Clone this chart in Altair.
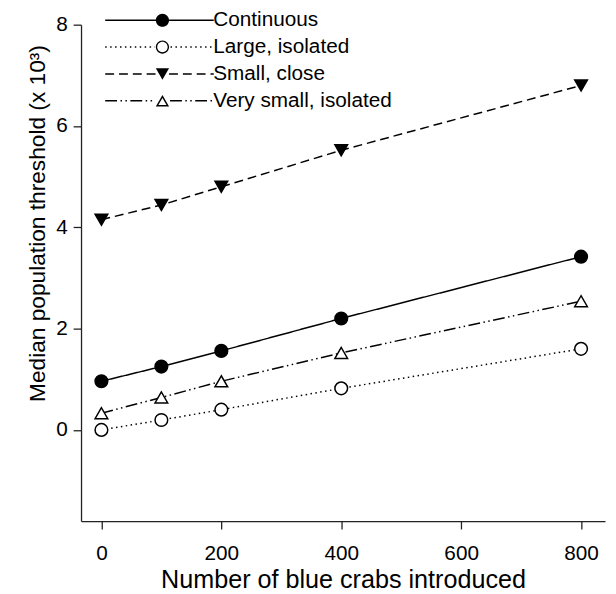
import math
import altair as alt
import pandas as pd

# ---- data ----
series = ["Continuous", "Large, isolated", "Small, close", "Very small, isolated"]
crabs = [0, 100, 200, 400, 800]
continuous = [0.96, 1.25, 1.56, 2.20, 3.42]
large_isolated = [0.00, 0.195, 0.40, 0.82, 1.60]
small_close = [4.15, 4.44, 4.80, 5.52, 6.80]
very_small_isolated = [0.33, 0.64, 0.96, 1.52, 2.54]

x_ticks = [0, 200, 400, 600, 800]
y_ticks = [0, 2, 4, 6, 8]

values = [continuous, large_isolated, small_close, very_small_isolated]
rows = []
for name, vals in zip(series, values):
    for x, y in zip(crabs, vals):
        rows.append({"crabs": x, "threshold": y, "series": name, "legend": name})
df = pd.DataFrame(rows)

# ---- styles ----
dash_patterns = [[1, 0], [1.5, 3.5], [9, 5], [12, 3.5, 1.5, 3.5, 1.5, 3.5]]
shapes = ["circle", "circle", "triangle-down", "triangle-up"]
fills = ["black", "white", "black", "white"]
FONT = "Liberation Sans"


# legend glyphs (line + marker) as custom symbol paths, in pixel units (size 4)
def dashes(x0, x1, pattern, t=1.5):
    out = []
    x, i, on = x0, 0, True
    while x < x1 - 0.01:
        L = pattern[i % len(pattern)]
        if on:
            a, b = x, min(x + L, x1)
            out.append(f"M{a:.2f},{-t/2:.2f}H{b:.2f}V{t/2:.2f}H{a:.2f}Z")
        x += L
        i += 1
        on = not on
    return "".join(out)


def circle(r, cw=True):
    s = 1 if cw else 0
    return f"M{r},0A{r},{r} 0 1,{s} {-r},0A{r},{r} 0 1,{s} {r},0Z"


def tri(pts):
    return "M" + "L".join(f"{x:.2f},{y:.2f}" for x, y in pts) + "Z"


L0, R0, R = -58, 52, 6.7
H = math.sqrt(3) / 2 * R
glyphs = []
glyphs.append(dashes(L0, -R, [200, 0]) + dashes(R, R0, [200, 0]) + circle(R))
glyphs.append(dashes(L0, -R - 1, [1.5, 3.5]) + dashes(R + 1.5, R0, [1.5, 3.5])
              + circle(R) + circle(R - 1.4, cw=False))
glyphs.append(dashes(L0, -R, [9, 5]) + dashes(R, R0, [9, 5])
              + tri([(0, H), (-R, -H), (R, -H)]))
outer = [(0, -H), (-R, H), (R, H)]
cy = H / 3
k = 0.62
inner = [(x * k, cy + (y - cy) * k) for x, y in outer][::-1]
glyphs.append(dashes(L0, -R - 1, [12, 3.5, 1.5, 3.5, 1.5, 3.5])
              + dashes(R + 1, R0, [12, 3.5, 1.5, 3.5, 1.5, 3.5])
              + tri(outer) + tri(inner))

xscale = alt.Scale(domain=[-34, 840], nice=False, zero=False)
yscale = alt.Scale(domain=[-1.8, 8], nice=False, zero=False)

xenc = alt.X("crabs:Q", scale=xscale, axis=alt.Axis(
    values=x_ticks, title="Number of blue crabs introduced",
    titleY=67, titleBaseline="alphabetic", titleFontSize=25.5))
yenc = alt.Y("threshold:Q", scale=yscale, axis=alt.Axis(
    values=y_ticks, title="Median population threshold (x 10\u00b3)",
    titleX=-37, titleY=201, titleBaseline="alphabetic", titleAngle=270,
    titleFontSize=23))

base = alt.Chart(df)

lines = base.mark_line(color="black", strokeWidth=1.5).encode(
    x=xenc, y=yenc,
    strokeDash=alt.StrokeDash("series:N", scale=alt.Scale(domain=series, range=dash_patterns), legend=None),
    detail="series:N",
)

points = base.mark_point(size=165, strokeWidth=1.5, opacity=1).encode(
    x=xenc, y=yenc,
    shape=alt.Shape("series:N", scale=alt.Scale(domain=series, range=shapes), legend=None),
    fill=alt.Fill("series:N", scale=alt.Scale(domain=series, range=fills), legend=None),
    stroke=alt.value("black"),
)

legend_layer = base.mark_point(filled=True, size=4).encode(
    x=xenc, y=yenc,
    shape=alt.Shape("legend:N", scale=alt.Scale(domain=series, range=glyphs),
                    legend=alt.Legend(title=None, orient="none", legendX=72, legendY=-15,
                                      labelFont=FONT, labelFontSize=21, labelColor="black",
                                      labelLimit=0,
                                      labelOffset=41, rowPadding=5.2, padding=0,
                                      symbolSize=4, symbolOpacity=1, symbolStrokeWidth=0,
                                      symbolFillColor="black")),
    color=alt.value("black"),
    opacity=alt.value(0),
)

chart = alt.layer(lines, points, legend_layer).resolve_scale(
    shape="independent"
).properties(
    width=531, height=503,
    autosize=alt.AutoSizeParams(type="none"),
    padding={"left": 74, "top": 13, "right": 3, "bottom": 70},
).configure_view(stroke=None).configure_axis(
    grid=False, domainColor="#222", domainWidth=1.3, tickColor="#222", tickWidth=1.3,
    tickSize=8, labelFont=FONT, labelFontSize=21, labelColor="black", labelPadding=6,
    titleFont=FONT, titleFontSize=25, titleFontWeight="normal", titleColor="black",
).configure_axisX(labelPadding=14)

chart.save("out.html", embed_options={"renderer": "svg", "actions": False})
